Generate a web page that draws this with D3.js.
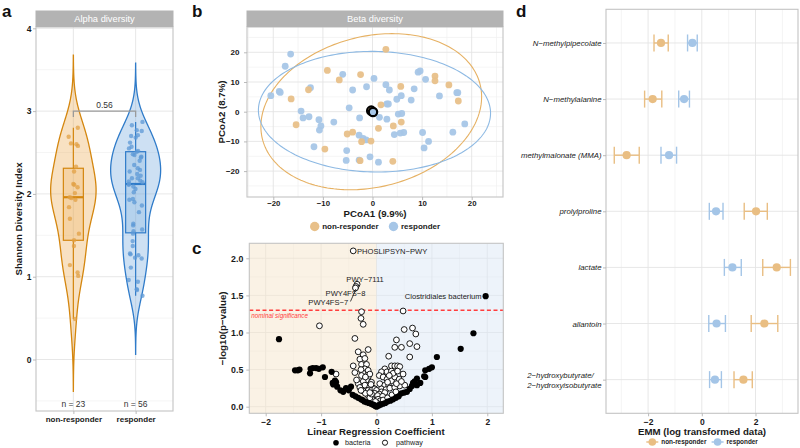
<!DOCTYPE html>
<html><head><meta charset="utf-8">
<script src="https://cdn.jsdelivr.net/npm/d3@7/dist/d3.min.js"></script>
<style>
html,body{margin:0;padding:0;background:#fff;}
svg{display:block;}
text{font-family:"Liberation Sans",Arial,Helvetica,sans-serif;}
</style></head><body>
<svg id="fig" width="800" height="448"></svg>
<script>
// ================= DATA =================
// Panel a: Shannon diversity
const groups = ["non-responder", "responder"];
const shannonNon = [0.49,1.01,1.05,1.14,1.37,1.44,1.52,1.70,1.84,1.93,1.95,1.96,2.01,2.08,2.11,2.12,2.27,2.33,2.58,2.60,2.61,2.69,2.80];
const shannonResp = [0.77,0.84,0.85,0.94,0.96,1.11,1.22,1.23,1.26,1.27,1.28,1.37,1.43,1.52,1.55,1.57,1.62,1.64,1.78,1.86,1.90,1.93,1.94,2.02,2.06,2.09,2.11,2.12,2.14,2.15,2.16,2.19,2.19,2.22,2.24,2.27,2.29,2.31,2.35,2.40,2.44,2.45,2.47,2.48,2.51,2.52,2.55,2.57,2.62,2.68,2.70,2.71,2.76,2.77,2.83,2.87];
const boxLow = [1.44, 1.53];
const boxMid = [1.96, 2.12];
const boxHigh = [2.31, 2.51];
const whiskLow = [0.49, 0.77];
const whiskHigh = [2.80, 2.87];
const groupN = [23, 56];
const pLabel = "0.56";
const alphaTicks = [0, 1, 2, 3, 4];

// Panel b: PCoA
const pcoaNon = [[-9.1,13.9],[-6.7,10.7],[-12.9,7.4],[-16.4,4.3],[-15.4,-4.4],[-9.6,-12.6],[-5.1,-7.5],[-4.0,-6.9],[-2.4,12.5],[-2.5,-16.5],[2.7,21.0],[12.6,12.0],[12.6,10.4],[15.4,9.0],[17.3,3.6],[5.7,8.5],[1.7,2.3],[5.8,-3.5],[4.2,-4.8],[1.2,-5.6],[-2.2,-10.1],[-0.3,-9.9],[4.1,-16.7]];
const pcoaResp = [[-16.5,19.4],[-17.6,15.3],[-20.5,5.4],[-18.8,6.8],[-18.6,6.5],[-12.5,8.1],[-14.4,0.2],[-14.0,-2.1],[-12.8,-1.7],[-10.8,-2.7],[-10.4,-4.8],[-10.7,-6.2],[-7.8,-3.5],[-11.8,-11.8],[-6.0,12.6],[-4.0,7.3],[-4.7,1.3],[-5.2,-13.1],[-5.3,-16.4],[-2.7,-16.3],[-2.6,-2.1],[-2.7,-7.9],[-1.9,-9.0],[-1.3,-9.5],[-0.5,-15.2],[1.2,-17.0],[0.3,11.2],[-1.2,8.4],[2.7,9.1],[3.4,7.3],[2.9,2.6],[3.2,2.6],[4.9,4.2],[5.8,5.4],[7.8,3.9],[8.4,7.7],[9.2,13.3],[9.6,13.7],[10.7,10.9],[13.5,5.3],[17.0,6.4],[17.2,6.4],[18.6,-4.1],[16.2,-6.9],[10.1,-7.0],[11.3,-10.0],[10.4,-12.2],[1.4,-1.9],[2.9,-2.5],[5.2,-0.8],[5.9,-0.6],[6.3,-7.0],[5.6,-7.2],[4.4,-7.7]];
// 95% ellipses: x = cx + a cos t ; y = cy + b cos t + c sin t
const ellCx = [-0.25, 0.4], ellCy = [0.0, 0.0];
const ellA = [22.25, 23.4], ellB = [5.0, -0.5], ellC = [25.8, 20.3];
const centroids = [[-0.25, 0.35], [0.1, -0.1]];
const pcoaTicks = [-20, -10, 0, 10, 20];

// Panel c: volcano
const bacteria = [[-1.76,0.91],[-1.47,0.49],[-1.42,0.49],[-1.39,0.50],[-1.19,0.51],[-1.20,0.45],[-1.15,0.52],[-1.09,0.52],[-1.04,0.51],[-0.97,0.53],[-0.93,0.40],[-0.81,0.47],[-0.75,0.35],[-0.79,0.32],[-0.71,0.27],[-0.55,0.25],[-0.46,0.27],[-0.43,0.16],[-0.78,0.30],[-0.73,0.33],[-0.50,0.22],[-0.38,0.14],[-0.33,0.12],[-0.28,0.10],[-0.25,0.09],[-0.22,0.07],[-0.18,0.06],[-0.14,0.05],[-0.10,0.04],[-0.07,0.03],[-0.04,0.02],[-0.02,0.01],[0.0,0.0],[0.02,0.01],[0.05,0.02],[0.08,0.03],[0.12,0.04],[0.16,0.05],[0.20,0.07],[0.25,0.08],[0.30,0.10],[0.35,0.12],[0.40,0.14],[0.45,0.18],[0.50,0.19],[0.55,0.20],[0.60,0.24],[0.64,0.28],[0.66,0.32],[0.69,0.34],[0.73,0.38],[0.73,0.29],[0.79,0.32],[0.86,0.41],[0.88,0.40],[0.88,0.49],[0.95,0.51],[1.00,0.53],[1.09,0.67],[1.52,0.78],[1.75,0.99],[1.97,1.49],[-0.60,0.20],[-0.65,0.22]];
const pathway = [[-0.42,2.10],[-0.35,1.65],[-0.37,1.62],[-0.38,1.60],[-0.27,1.28],[-0.28,1.19],[-0.24,1.11],[-1.03,1.09],[0.48,1.29],[-0.39,0.92],[0.50,1.04],[0.65,1.06],[0.71,0.98],[0.36,0.90],[0.60,0.85],[0.73,0.81],[0.33,0.80],[0.45,0.80],[0.60,0.67],[0.22,0.68],[-0.33,0.74],[-0.24,0.70],[-0.15,0.77],[-0.30,0.64],[-0.21,0.65],[-0.27,0.57],[-0.18,0.57],[-0.42,0.55],[-0.21,0.51],[-0.15,0.49],[-0.25,0.46],[-0.39,0.46],[-0.27,0.42],[-0.15,0.40],[-0.73,0.44],[-0.18,0.36],[-0.24,0.34],[-0.09,0.33],[-0.33,0.31],[-0.21,0.29],[-0.12,0.27],[-0.06,0.25],[-0.15,0.22],[-0.09,0.22],[-0.03,0.24],[-0.24,0.21],[-0.30,0.26],[-0.36,0.36],[-0.12,0.44],[-0.20,0.40],[-0.28,0.50],[-0.10,0.30],[-0.05,0.15],[-0.15,0.15],[-0.20,0.18],[-0.28,0.22],[-0.08,0.10],[-0.12,0.12],[0.27,0.55],[0.33,0.55],[0.38,0.55],[0.42,0.54],[0.15,0.51],[0.09,0.47],[0.19,0.47],[0.27,0.48],[0.05,0.42],[0.12,0.40],[0.19,0.37],[0.27,0.35],[0.33,0.40],[0.41,0.37],[0.06,0.31],[0.15,0.29],[0.22,0.28],[0.09,0.24],[0.17,0.23],[0.24,0.25],[0.33,0.26],[0.42,0.28],[0.51,0.29],[0.00,0.22],[0.09,0.20],[-0.03,0.18],[0.05,0.17],[0.15,0.19],[-0.09,0.17],[0.02,0.15],[0.11,0.14],[-0.12,0.19],[0.48,0.44],[0.30,0.45],[0.36,0.31],[0.20,0.33],[0.03,0.10],[0.07,0.08],[0.12,0.09],[0.20,0.12],[0.28,0.16],[0.35,0.20],[0.01,0.05],[-0.02,0.07],[0.23,0.42],[0.38,0.48],[0.45,0.34]];
const labelNames = ["PHOSLIPSYN−PWY", "PWY−7111", "PWY4FS−8", "PWY4FS−7", "Clostridiales bacterium"];
const labelCoef = [-0.42, -0.35, -0.37, -0.38, 1.97];
const labelLogp = [2.10, 1.65, 1.62, 1.60, 1.49];
const sigThreshold = 1.30103; // -log10(0.05)
const volcXTicks = [-2, -1, 0, 1, 2];
const volcYTicks = [0, 0.5, 1, 1.5, 2];

// Panel d: EMM
const metabolites = ["N−methylpipecolate","N−methylalanine","methylmalonate (MMA)","prolylproline","lactate","allantoin","2−hydroxybutyrate/\n2−hydroxyisobutyrate"];
const emmNon  = [-1.52,-1.83,-2.80, 2.02, 2.79, 2.33, 1.55];
const loNon   = [-1.78,-2.13,-3.26, 1.58, 2.27, 1.84, 1.20];
const hiNon   = [-1.25,-1.49,-2.33, 2.44, 3.30, 2.83, 1.88];
const emmResp = [-0.35,-0.66,-1.22, 0.53, 1.14, 0.55, 0.49];
const loResp  = [-0.53,-0.86,-1.52, 0.28, 0.84, 0.26, 0.29];
const hiResp  = [-0.17,-0.46,-0.94, 0.79, 1.47, 0.88, 0.73];
const emmTicks = [-2, 0, 2];

// ================= STYLE =================
const svg = d3.select("#fig");
const BORDER = "#C4C4C4", GRID = "#E4E4E4", GRIDMIN = "#F1F1F1", TICK = "#B3B3B3", TXT = "#1a1a1a";
const ORG_DARK = "#D4860E", BLU_DARK = "#2F7BC9";
const ORG_PT = "#E8C089", BLU_PT = "#A6C6E7";

function hlines(g, ys, x0, x1, c, w) {
  g.append("g").selectAll("line").data(ys).join("line")
    .attr("x1", x0).attr("x2", x1).attr("y1", d => d).attr("y2", d => d)
    .attr("stroke", c).attr("stroke-width", w);
}
function vlines(g, xs, y0, y1, c, w) {
  g.append("g").selectAll("line").data(xs).join("line")
    .attr("y1", y0).attr("y2", y1).attr("x1", d => d).attr("x2", d => d)
    .attr("stroke", c).attr("stroke-width", w);
}
function frame(g, x0, y0, x1, y1) {
  g.append("rect").attr("x", x0).attr("y", y0).attr("width", x1 - x0).attr("height", y1 - y0)
    .attr("fill", "none").attr("stroke", BORDER).attr("stroke-width", 1.1);
}
function strip(g, x0, x1, y0, y1, label) {
  g.append("rect").attr("x", x0 - 0.5).attr("y", y0).attr("width", x1 - x0 + 1).attr("height", y1 - y0).attr("fill", "#B3B3B3");
  g.append("text").attr("x", (x0 + x1) / 2).attr("y", (y0 + y1) / 2).attr("dy", "0.35em")
    .attr("text-anchor", "middle").attr("fill", "#fff").attr("font-size", 9.3).text(label);
}
function styleAxis(g, size, bold = true, italic = false) {
  g.select("path.domain").remove();
  g.selectAll(".tick line").attr("stroke", TICK).attr("stroke-width", 0.9);
  g.selectAll(".tick text").attr("font-size", size).attr("font-weight", bold ? "bold" : "normal")
    .attr("font-style", italic ? "italic" : "normal").attr("fill", TXT);
}
function title(x, y, txt, rot) {
  const t = svg.append("text").attr("font-size", 9.7).attr("font-weight", "bold").attr("fill", TXT)
    .attr("text-anchor", "middle").text(txt);
  if (rot) t.attr("transform", `translate(${x},${y}) rotate(-90)`);
  else t.attr("x", x).attr("y", y);
  return t;
}
function panelLetter(x, y, l) {
  svg.append("text").attr("x", x).attr("y", y).attr("font-size", 17).attr("font-weight", "bold").attr("fill", "#111").text(l);
}

// ================= PANEL A =================
(function () {
  const L = 36, R = 173, T = 27, B = 411;
  const g = svg.append("g");
  const x = d3.scalePoint().domain(groups).range([L, R]).padding(0.6);
  const y = d3.scaleLinear().domain([-0.622, 4.016]).range([B, T]);
  // grid
  hlines(g, d3.range(-0.5, 4, 1).map(y), L, R, GRIDMIN, 0.7);
  hlines(g, alphaTicks.map(y), L, R, GRID, 0.9);
  vlines(g, groups.map(x), T, B, GRID, 0.9);

  const datasets = [shannonNon, shannonResp];
  const strokes = [ORG_DARK, BLU_DARK];
  const fills = ["#EBAA4F", "#6FA6DD"];
  const ptCol = ["#E2A044", "#5C98D6"];
  // KDE (Gaussian, nrd0 bandwidth, untrimmed)
  const kdes = datasets.map(vals => {
    const n = vals.length;
    const sd = d3.deviation(vals);
    const iqr = d3.quantile(vals, 0.75) - d3.quantile(vals, 0.25);
    const bw = 0.9 * Math.min(sd, iqr / 1.34) * Math.pow(n, -0.2);
    const lo = d3.min(vals) - 3 * bw, hi = d3.max(vals) + 3 * bw;
    const grid = d3.range(0, 257).map(i => lo + (hi - lo) * i / 256);
    return grid.map(t => [t, d3.sum(vals, v => Math.exp(-0.5 * ((t - v) / bw) ** 2)) / (n * bw * Math.sqrt(2 * Math.PI))]);
  });
  const maxD = d3.max(kdes, k => d3.max(k, d => d[1]));
  const w = d3.scaleLinear().domain([0, maxD]).range([0, 25]);
  kdes.forEach((k, i) => {
    const cx = x(groups[i]);
    const area = d3.area().y(d => y(d[0])).x0(d => cx - w(d[1])).x1(d => cx + w(d[1]));
    g.append("path").attr("d", area(k)).attr("fill", fills[i]).attr("fill-opacity", 0.35)
      .attr("stroke", strokes[i]).attr("stroke-width", 1.3);
  });
  // boxes
  groups.forEach((gr, i) => {
    const cx = x(gr), hw = 10;
    g.append("line").attr("x1", cx).attr("x2", cx).attr("y1", y(whiskHigh[i])).attr("y2", y(boxHigh[i])).attr("stroke", strokes[i]).attr("stroke-width", 1.2);
    g.append("line").attr("x1", cx).attr("x2", cx).attr("y1", y(boxLow[i])).attr("y2", y(whiskLow[i])).attr("stroke", strokes[i]).attr("stroke-width", 1.2);
    g.append("rect").attr("x", cx - hw).attr("width", 2 * hw).attr("y", y(boxHigh[i])).attr("height", y(boxLow[i]) - y(boxHigh[i]))
      .attr("fill", fills[i]).attr("fill-opacity", 0.25).attr("stroke", strokes[i]).attr("stroke-width", 1.2);
    g.append("line").attr("x1", cx - hw).attr("x2", cx + hw).attr("y1", y(boxMid[i])).attr("y2", y(boxMid[i])).attr("stroke", strokes[i]).attr("stroke-width", 2.2);
  });
  // jittered points
  const rng = d3.randomUniform.source(d3.randomLcg(0.1234))(-7, 7);
  datasets.forEach((vals, i) => {
    const cx = x(groups[i]);
    g.append("g").selectAll("circle").data(vals).join("circle")
      .attr("cx", () => cx + rng()).attr("cy", d => y(d)).attr("r", 2.2)
      .attr("fill", ptCol[i]).attr("fill-opacity", 0.75);
  });
  // significance bracket
  const bx0 = x(groups[0]), bx1 = x(groups[1]), by = y(3.0);
  g.append("path").attr("d", `M${bx0},${y(2.93)}V${by}H${bx1}V${y(2.93)}`).attr("fill", "none").attr("stroke", "#9a9a9a").attr("stroke-width", 1.3);
  g.append("text").attr("x", (bx0 + bx1) / 2).attr("y", by - 3.5).attr("text-anchor", "middle").attr("font-size", 8.5).attr("fill", "#333").text(pLabel);
  // n labels
  groups.forEach((gr, i) => {
    g.append("text").attr("x", x(gr)).attr("y", y(-0.54)).attr("dy", "0.35em").attr("text-anchor", "middle")
      .attr("font-size", 8.5).attr("fill", "#333").text(`n = ${groupN[i]}`);
  });
  frame(g, L, T, R, B);
  strip(g, L, R, 10.5, T, "Alpha diversity");
  const ya = svg.append("g").attr("transform", `translate(${L},0)`).call(d3.axisLeft(y).tickValues(alphaTicks).tickFormat(d3.format("d")).tickSize(3).tickPadding(1.5));
  styleAxis(ya, 8.5);
  const xa = svg.append("g").attr("transform", `translate(0,${B})`).call(d3.axisBottom(x).tickSize(3).tickPadding(2.2));
  styleAxis(xa, 8);
  title(19, (T + B) / 2, "Shannon Diversity Index", true).attr("dy", "0.35em");
  panelLetter(2, 17, "a");
})();

// ================= PANEL B =================
(function () {
  const L = 247, R = 503, T = 27, B = 197;
  const g = svg.append("g");
  const x = d3.scaleLinear().domain([-25.3, 26.31]).range([L, R]);
  const y = d3.scaleLinear().domain([-28.72, 28.52]).range([B, T]);
  hlines(g, [-25, -15, -5, 5, 15, 25].map(y), L, R, GRIDMIN, 0.7);
  vlines(g, [-25, -15, -5, 5, 15, 25].map(x), T, B, GRIDMIN, 0.7);
  hlines(g, pcoaTicks.map(y), L, R, GRID, 0.9);
  vlines(g, pcoaTicks.map(x), T, B, GRID, 0.9);
  const ellCols = ["#E6B163", "#8DB9E3"];
  const line = d3.line().x(d => x(d[0])).y(d => y(d[1]));
  [0, 1].forEach(i => {
    const pts = d3.range(0, 201).map(k => {
      const t = 2 * Math.PI * k / 200;
      return [ellCx[i] + ellA[i] * Math.cos(t), ellCy[i] + ellB[i] * Math.cos(t) + ellC[i] * Math.sin(t)];
    });
    g.append("path").attr("d", line(pts)).attr("fill", "none").attr("stroke", ellCols[i]).attr("stroke-width", 1.1);
  });
  const allPts = pcoaResp.map(p => [p, 1]).concat(pcoaNon.map(p => [p, 0]));
  g.append("g").selectAll("circle").data(allPts).join("circle")
    .attr("cx", d => x(d[0][0])).attr("cy", d => y(d[0][1])).attr("r", 3.4)
    .attr("fill", d => d[1] ? BLU_PT : ORG_PT).attr("fill-opacity", 0.95);
  centroids.forEach((c, i) => {
    g.append("circle").attr("cx", x(c[0])).attr("cy", y(c[1])).attr("r", 4.2)
      .attr("fill", i ? BLU_PT : ORG_PT).attr("stroke", "#000").attr("stroke-width", 2.2);
  });
  frame(g, L, T, R, B);
  strip(g, L, R, 10.5, T, "Beta diversity");
  const ya = svg.append("g").attr("transform", `translate(${L},0)`).call(d3.axisLeft(y).tickValues(pcoaTicks).tickSize(3).tickPadding(4.5));
  styleAxis(ya, 8);
  const xa = svg.append("g").attr("transform", `translate(0,${B})`).call(d3.axisBottom(x).tickValues(pcoaTicks).tickSize(3).tickPadding(0.8));
  styleAxis(xa, 7.8);
  title(375, 217, "PCoA1 (9.9%)", false);
  title(222, (T + B) / 2, "PCoA2 (8.7%)", true).attr("dy", "0.35em");
  // legend
  const lg = svg.append("g");
  [[314.7, ORG_PT, groups[0]], [393.5, BLU_PT, groups[1]]].forEach(([lx, c, t]) => {
    lg.append("circle").attr("cx", lx).attr("cy", 226.5).attr("r", 4.7).attr("fill", c);
    lg.append("text").attr("x", lx + 7.5).attr("y", 226.5).attr("dy", "0.35em").attr("font-size", 8).attr("font-weight", "bold").attr("fill", TXT).text(t);
  });
  panelLetter(192, 17, "b");
})();

// ================= PANEL C =================
(function () {
  const L = 249.3, R = 503.3, T = 243.3, B = 413.3;
  const g = svg.append("g");
  const x = d3.scaleLinear().domain([-2.296, 2.289]).range([L, R]);
  const y = d3.scaleLinear().domain([-0.089, 2.202]).range([B, T]);
  hlines(g, [0.25, 0.75, 1.25, 1.75].map(y), L, R, GRIDMIN, 0.7);
  vlines(g, [-1.5, -0.5, 0.5, 1.5].map(x), T, B, GRIDMIN, 0.7);
  hlines(g, volcYTicks.map(y), L, R, GRID, 0.9);
  vlines(g, volcXTicks.map(x), T, B, GRID, 0.9);
  g.append("rect").attr("x", L).attr("y", T).attr("width", x(0) - L).attr("height", B - T).attr("fill", "#F6E6CC").attr("fill-opacity", 0.5);
  g.append("rect").attr("x", x(0)).attr("y", T).attr("width", R - x(0)).attr("height", B - T).attr("fill", "#DBE7F5").attr("fill-opacity", 0.5);
  // threshold
  g.append("line").attr("x1", L).attr("x2", R).attr("y1", y(sigThreshold)).attr("y2", y(sigThreshold))
    .attr("stroke", "#FF3D3D").attr("stroke-width", 1.5).attr("stroke-dasharray", "4,2.6");
  g.append("text").attr("x", L + 2).attr("y", y(sigThreshold) + 8.2).attr("font-size", 6.3).attr("font-style", "italic").attr("fill", "#FF3D3D").text("nominal significance");
  // points
  g.append("g").selectAll("circle").data(pathway).join("circle")
    .attr("cx", d => x(d[0])).attr("cy", d => y(d[1])).attr("r", 2.9)
    .attr("fill", "#fff").attr("stroke", "#000").attr("stroke-width", 0.9);
  g.append("g").selectAll("circle").data(bacteria).join("circle")
    .attr("cx", d => x(d[0])).attr("cy", d => y(d[1])).attr("r", 3.1).attr("fill", "#000");
  // labels (layout offsets in pixels)
  const lay = [
    { dx: 3.8, dy: 2.8, anchor: "start", seg: null },
    { dx: 8, dy: -2.3, anchor: "middle", seg: null },
    { dx: 9.5, dy: 9.5, anchor: "end", seg: [-1, 4] },
    { dx: -7.2, dy: 17.3, anchor: "end", seg: [-5, 13.5] },
    { dx: -4, dy: 2.8, anchor: "end", seg: null }
  ];
  labelNames.forEach((nm, i) => {
    const px = x(labelCoef[i]), py = y(labelLogp[i]), o = lay[i];
    if (o.seg) g.append("line").attr("x1", px).attr("y1", py + 2.5).attr("x2", px + o.seg[0]).attr("y2", py + o.seg[1]).attr("stroke", "#111").attr("stroke-width", 0.8);
    g.append("text").attr("x", px + o.dx).attr("y", py + o.dy).attr("text-anchor", o.anchor)
      .attr("font-size", 7.6).attr("fill", "#222").text(nm);
  });
  frame(g, L, T, R, B);
  const ya = svg.append("g").attr("transform", `translate(${L},0)`).call(d3.axisLeft(y).tickValues(volcYTicks).tickFormat(d3.format(".1f")).tickSize(3).tickPadding(3));
  styleAxis(ya, 8.8);
  const xa = svg.append("g").attr("transform", `translate(0,${B})`).call(d3.axisBottom(x).tickValues(volcXTicks).tickFormat(d3.format("d")).tickSize(3).tickPadding(2.3));
  styleAxis(xa, 8.5);
  title(376, 435, "Linear Regression Coefficient", false);
  title(223, (T + B) / 2, "−log10(p−value)", true).attr("dy", "0.35em");
  // legend
  const lg = svg.append("g");
  lg.append("circle").attr("cx", 336).attr("cy", 442.7).attr("r", 2.8).attr("fill", "#000");
  lg.append("text").attr("x", 345).attr("y", 442.7).attr("dy", "0.35em").attr("font-size", 7.2).attr("fill", TXT).text("bacteria");
  lg.append("circle").attr("cx", 385).attr("cy", 442.7).attr("r", 2.6).attr("fill", "#fff").attr("stroke", "#000").attr("stroke-width", 0.9);
  lg.append("text").attr("x", 396).attr("y", 442.7).attr("dy", "0.35em").attr("font-size", 7.2).attr("fill", TXT).text("pathway");
  panelLetter(192, 254, "c");
})();

// ================= PANEL D =================
(function () {
  const L = 606, R = 798, T = 9.3, B = 413.3;
  const g = svg.append("g");
  const x = d3.scaleLinear().domain([-3.568, 3.583]).range([L, R]);
  const y = d3.scalePoint().domain(metabolites).range([T, B]).padding(0.6);
  vlines(g, [-3, -1, 1, 3].map(x), T, B, GRIDMIN, 0.8);
  vlines(g, emmTicks.map(x), T, B, GRID, 0.9);
  hlines(g, metabolites.map(y), L, R, GRID, 0.9);
  const series = [
    { emm: emmNon, lo: loNon, hi: hiNon, col: "#E9BE83" },
    { emm: emmResp, lo: loResp, hi: hiResp, col: "#A4C5E7" }
  ];
  series.forEach(s => {
    const gg = g.append("g");
    metabolites.forEach((m, i) => {
      const cy = y(m), h = 8.5;
      gg.append("line").attr("x1", x(s.lo[i])).attr("x2", x(s.hi[i])).attr("y1", cy).attr("y2", cy).attr("stroke", s.col).attr("stroke-width", 1.4);
      gg.append("line").attr("x1", x(s.lo[i])).attr("x2", x(s.lo[i])).attr("y1", cy - h).attr("y2", cy + h).attr("stroke", s.col).attr("stroke-width", 1.4);
      gg.append("line").attr("x1", x(s.hi[i])).attr("x2", x(s.hi[i])).attr("y1", cy - h).attr("y2", cy + h).attr("stroke", s.col).attr("stroke-width", 1.4);
      gg.append("circle").attr("cx", x(s.emm[i])).attr("cy", cy).attr("r", 4.1).attr("fill", s.col);
    });
  });
  frame(g, L, T, R, B);
  const ya = svg.append("g").attr("transform", `translate(${L},0)`).call(d3.axisLeft(y).tickSize(3).tickPadding(1.5));
  styleAxis(ya, 7.8, false, true);
  ya.selectAll(".tick text").each(function (d) {
    if (d.indexOf("\n") < 0) return;
    const t = d3.select(this);
    const lines = d.split("\n");
    t.text(null).attr("dy", null).attr("text-anchor", "start");
    const sp = lines.map((ln, k) => t.append("tspan").attr("dy", k === 0 ? (-5 + 2.7) : 10).text(ln));
    const maxW = d3.max(sp, s => s.node().getComputedTextLength());
    const xx = -4.5 - maxW;
    sp.forEach(s => s.attr("x", xx));
  });
  const xa = svg.append("g").attr("transform", `translate(0,${B})`).call(d3.axisBottom(x).tickValues(emmTicks).tickFormat(d3.format("d")).tickSize(3).tickPadding(2.3));
  styleAxis(xa, 8.5);
  title(702, 435, "EMM (log transformed data)", false);
  // legend
  const lg = svg.append("g");
  [[652.3, series[0].col, groups[0]], [717.6, series[1].col, groups[1]]].forEach(([lx, c, t]) => {
    lg.append("line").attr("x1", lx - 6).attr("x2", lx + 6).attr("y1", 442).attr("y2", 442).attr("stroke", c).attr("stroke-width", 1.4);
    lg.append("circle").attr("cx", lx).attr("cy", 442).attr("r", 3.8).attr("fill", c);
    lg.append("text").attr("x", lx + 9).attr("y", 442).attr("dy", "0.35em").attr("font-size", 6.4).attr("font-weight", "bold").attr("fill", TXT).text(t);
  });
  panelLetter(516, 17, "d");
})();
</script>
</body></html>
